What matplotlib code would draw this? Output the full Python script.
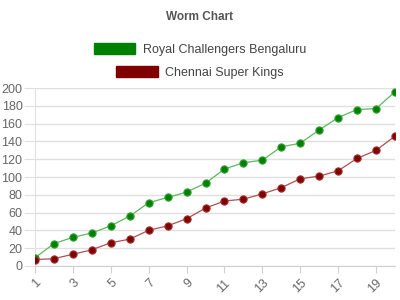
import matplotlib
matplotlib.use("Agg")
import matplotlib.pyplot as plt
from matplotlib.patches import Patch

overs = list(range(1, 21))
rcb = [9, 25, 32, 37, 45, 56, 71, 77, 83, 93, 109, 116, 119, 134, 138, 153, 167, 176, 177, 196]
csk = [7, 8, 13, 18, 26, 30, 40, 45, 53, 65, 73, 75, 81, 88, 98, 101, 107, 121, 130, 146]
teams = ["Royal Challengers Bengaluru", "Chennai Super Kings"]
yticks = list(range(0, 201, 20))
xticks = list(range(1, 21, 2))

plt.rcParams["font.family"] = ["Liberation Sans", "DejaVu Sans"]

fig = plt.figure(figsize=(4, 3), dpi=100)
ax = fig.add_axes([0.0875, 0.114, 0.9, 0.592])

ax.plot(overs, rcb, color="#5cb85c", lw=0.9, marker="o", ms=5.2,
        mfc="#008000", mec="#33a033", mew=0.8, zorder=3)
ax.plot(overs, csk, color="#b05050", lw=0.9, marker="o", ms=5.2,
        mfc="#800000", mec="#a03030", mew=0.8, zorder=3)

ax.set_xlim(1, 20)
ax.set_ylim(0, 200)
ax.set_yticks(yticks)
ax.set_xticks(xticks)
ax.set_xticklabels([str(x) for x in xticks], rotation=45, ha="right",
                   rotation_mode="anchor")
ax.grid(axis="y", color="#e0e0e0", lw=1)
ax.set_axisbelow(True)
for s in ["top", "right"]:
    ax.spines[s].set_visible(False)
ax.spines["left"].set_color("#e0e0e0")
ax.spines["bottom"].set_color("#d0d0d0")
ax.tick_params(axis="y", length=8, color="#e0e0e0", labelsize=9,
               labelcolor="#666666", pad=1)
ax.tick_params(axis="x", length=5, color="#d0d0d0", labelsize=9,
               labelcolor="#666666", pad=3)

fig.text(0.5, 0.945, "Worm Chart", ha="center", va="center",
         fontsize=8.5, fontweight="bold", color="#555555")

colors = ["#008000", "#800000"]
ypos = [0.835, 0.758]
for team, c, y in zip(teams, colors, ypos):
    h = Patch(facecolor=c, edgecolor=c, alpha=1)
    fig.legend([h], [team], loc="center", bbox_to_anchor=(0.5, y),
               frameon=False, fontsize=9, handlelength=3.3, handleheight=1.0,
               handletextpad=0.6, borderpad=0, labelcolor="#444444")

fig.savefig("out.png", dpi=100)
